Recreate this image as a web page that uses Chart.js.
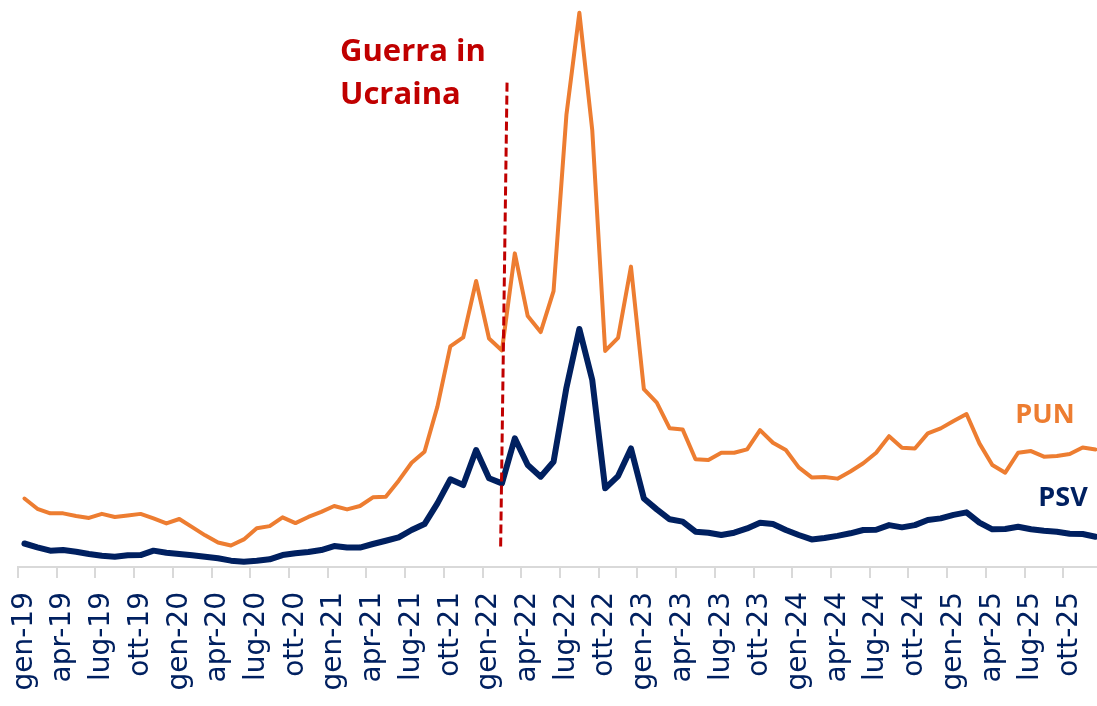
<!DOCTYPE html>
<html>
<head>
<meta charset="utf-8">
<script src="https://cdn.jsdelivr.net/npm/chart.js@4.4.0/dist/chart.umd.min.js"></script>
<style>
  html, body { margin: 0; padding: 0; background: #fff; overflow: hidden; }
  #wrap { width: 1104px; height: 706px; }
</style>
</head>
<body>
<div id="wrap"><canvas id="myChart" width="1104" height="706"></canvas></div>
<script>
const months = ['gen', 'feb', 'mar', 'apr', 'mag', 'giu', 'lug', 'ago', 'set', 'ott', 'nov', 'dic'];
const years = ['19', '20', '21', '22', '23', '24', '25'];

// €/MWh, monthly averages gen-19 .. dic-25
const pun = [
  67, 57, 52.5, 52.5, 50, 48, 52, 49, 50.5, 52, 47.6, 42.7,
  47, 39, 31, 24, 21, 27, 38, 40, 48.6, 43, 49, 54,
  59.7, 56.4, 59.7, 68.2, 68.8, 84.5, 102, 112.8, 157, 216, 224.7, 280,
  223.7, 212, 307, 245.6, 230, 270, 443, 542.5, 427.5, 211.5, 224.2, 294,
  174, 160.8, 135.7, 134.7, 105.4, 104.7, 111.8, 111.8, 115.2, 134, 121.6, 114.5,
  97.5, 87.7, 88, 86.5, 93.5, 101.5, 111.8, 128, 116.7, 116, 130.8, 135.7,
  143, 149.7, 121, 99.8, 92.3, 111.8, 113.5, 108, 108.6, 110.6, 117, 115
];
const psv = [
  23, 19.3, 16, 16.6, 15, 12.7, 11, 10, 11.4, 11.7, 16, 14,
  12.7, 11.4, 10, 8.5, 6.2, 5.2, 6.2, 7.5, 11.7, 13.4, 14.7, 16.6,
  20.5, 19, 19, 22.5, 25.7, 29, 36.2, 42, 62.3, 85.8, 80.2, 114.5,
  86.8, 81.9, 126, 99.8, 88.4, 103, 175.6, 233, 183, 77, 89, 116,
  67, 56.4, 46.7, 44.4, 34.6, 33.6, 31.3, 33.6, 37.8, 43.4, 42, 36.2,
  31.3, 27, 28.4, 30.5, 33, 36.2, 36.5, 41, 38.8, 41, 46, 47.6,
  51, 53.5, 43.4, 36.9, 37.2, 39.4, 36.9, 35.5, 34.5, 32.6, 32.3, 29.6
];

const labels = [];
years.forEach(y => months.forEach(m => labels.push(m + '-' + y)));

// start of the war: feb-22, line drawn slightly slanted like the original
const warIdx = labels.indexOf('feb-22');
const warBottom = { pos: warIdx - 0.1, val: 20 };
const warTop = { pos: warIdx + 0.4, val: 477 };

const navy = '#002060';
const orange = '#ED7D31';
const darkRed = '#C00000';

function xAt(scale, pos) {
  const i = Math.floor(pos);
  const a = scale.getPixelForValue(i);
  const b = scale.getPixelForValue(i + 1);
  return a + (b - a) * (pos - i);
}

const notes = {
  id: 'notes',
  afterDatasetsDraw(chart) {
    const { ctx, scales: { x, y } } = chart;
    ctx.save();
    // dashed red line
    ctx.strokeStyle = darkRed;
    ctx.lineWidth = 3;
    ctx.setLineDash([9, 4]);
    ctx.beginPath();
    ctx.moveTo(xAt(x, warBottom.pos), y.getPixelForValue(warBottom.val));
    ctx.lineTo(xAt(x, warTop.pos), y.getPixelForValue(warTop.val));
    ctx.stroke();
    ctx.setLineDash([]);

    ctx.font = 'bold 31px "Open Sans"';
    ctx.fillStyle = darkRed;
    ctx.textAlign = 'left';
    ctx.textBaseline = 'alphabetic';
    ctx.fillText('Guerra in', 340, 61);
    ctx.fillText('Ucraina', 340, 104);

    ctx.font = 'bold 27px "Open Sans"';
    ctx.textAlign = 'center';
    ctx.textBaseline = 'middle';
    ctx.fillStyle = orange;
    ctx.fillText('PUN', 1045, 415);
    ctx.fillStyle = navy;
    ctx.fillText('PSV', 1063, 498);
    ctx.restore();
  }
};

const data = {
  labels: labels,
  datasets: [{
    label: 'PUN',
    data: pun,
    borderColor: orange,
    borderWidth: 4,
    pointRadius: 0,
    tension: 0,
    borderJoinStyle: 'round',
    borderCapStyle: 'round'
  },
  {
    label: 'PSV',
    data: psv,
    borderColor: navy,
    borderWidth: 6,
    pointRadius: 0,
    tension: 0,
    borderJoinStyle: 'round',
    borderCapStyle: 'round'
  }]
};

const config = {
  type: 'line',
  data: data,
  plugins: [notes],
  options: {
    responsive: false,
    animation: false,
    devicePixelRatio: 1,
    layout: { padding: { left: 18, right: 2, top: 0, bottom: 0 } },
    plugins: {
      legend: { display: false },
      tooltip: { enabled: false }
    },
    scales: {
      x: {
        offset: true,
        border: { color: '#D9D9D9', width: 2 },
        grid: {
          offset: true,
          drawOnChartArea: false,
          drawTicks: true,
          tickLength: 11,
          lineWidth: 2,
          color: ctx => (ctx.index % 3 === 0 ? '#D9D9D9' : 'rgba(0,0,0,0)')
        },
        ticks: {
          autoSkip: false,
          maxRotation: 90,
          minRotation: 90,
          padding: 14,
          color: navy,
          font: { family: '"DejaVu Sans"', size: 28 },
          callback: (val, i) => (i % 3 === 0 ? labels[i] : '')
        },
        afterFit: scale => {
          scale.height = 139;
          scale.paddingLeft = 0;
          scale.paddingRight = 0;
        }
      },
      y: {
        display: false,
        min: 0,
        max: 555
      }
    }
  }
};

const myChart = new Chart(
  document.getElementById('myChart'),
  config
);
</script>
</body>
</html>
